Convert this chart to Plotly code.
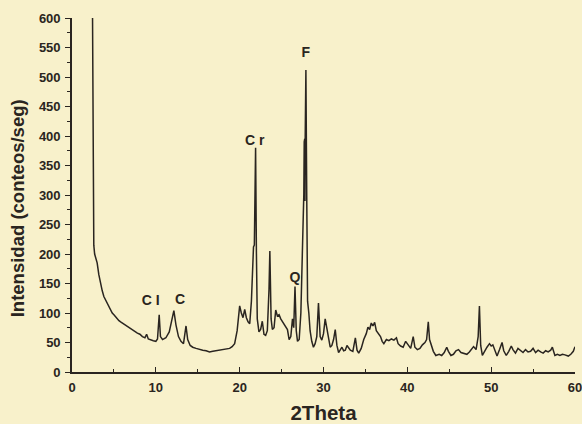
import plotly.graph_objects as go

two_theta = [2.45, 2.5, 2.55, 2.6, 2.7, 2.8, 2.9, 3.0, 3.2, 3.4, 3.6, 3.8, 4.0, 4.2, 4.4, 4.6, 4.8, 5.0,
             5.2, 5.4, 5.6, 5.8, 6.0, 6.3, 6.6, 6.9, 7.2, 7.5, 7.8, 8.1, 8.4, 8.7, 8.9, 9.1, 9.4, 9.7,
             10.0, 10.2, 10.4, 10.55, 10.8, 11.2, 11.6, 11.9, 12.15, 12.4, 12.7, 13.0, 13.3, 13.6,
             13.8, 14.1, 14.4, 14.8, 15.2, 15.6, 16.0, 16.4, 16.8, 17.2, 17.6, 18.0, 18.4, 18.8,
             19.1, 19.4, 19.7, 20.0, 20.2, 20.4, 20.6, 20.8, 21.0, 21.2, 21.4, 21.55, 21.65, 21.75,
             21.9, 22.0, 22.1, 22.3, 22.5, 22.7, 22.9, 23.1, 23.3, 23.5, 23.6, 23.75, 23.9, 24.1,
             24.3, 24.5, 24.7, 24.9, 25.1, 25.3, 25.5, 25.7, 25.9, 26.1, 26.3, 26.45, 26.6, 26.75,
             26.9, 27.1, 27.3, 27.5, 27.65, 27.7, 27.73, 27.76, 27.79, 27.82, 27.9, 28.0, 28.1,
             28.25, 28.4, 28.6, 28.8, 29.0, 29.2, 29.4, 29.6, 29.8, 30.0, 30.2, 30.4, 30.6, 30.8,
             31.0, 31.2, 31.4, 31.6, 31.8, 32.0, 32.2, 32.4, 32.6, 32.8, 33.0, 33.2, 33.5, 33.8,
             34.0, 34.2, 34.5, 34.8, 35.1, 35.3, 35.5, 35.7, 35.9, 36.1, 36.3, 36.5, 36.8, 37.0,
             37.2, 37.5, 37.8, 38.1, 38.4, 38.7, 38.9, 39.2, 39.5, 39.8, 40.1, 40.4, 40.7, 40.9,
             41.2, 41.5, 41.8, 42.1, 42.3, 42.5, 42.65, 42.9, 43.1, 43.4, 43.8, 44.1, 44.4, 44.7,
             44.9, 45.2, 45.5, 45.8, 46.1, 46.4, 46.8, 47.1, 47.4, 47.7, 47.9, 48.2, 48.45, 48.6,
             48.75, 48.95, 49.2, 49.5, 49.8, 50.0, 50.2, 50.5, 50.7, 51.0, 51.3, 51.5, 51.8, 52.1,
             52.4, 52.6, 52.9, 53.2, 53.5, 53.8, 54.1, 54.4, 54.7, 55.0, 55.3, 55.6, 55.9, 56.2,
             56.5, 56.8, 57.1, 57.3, 57.6, 57.9, 58.2, 58.5, 58.8, 59.2, 59.5, 59.8, 60.0]

intensity = [600, 420, 300, 215, 200, 195, 190, 185, 165, 150, 138, 128, 122, 116, 110, 105, 100, 97,
             93, 90, 87, 85, 83, 80, 78, 74, 72, 68, 66, 64, 60, 58, 64, 56, 54, 53,
             52, 56, 97, 60, 55, 58, 68, 85, 104, 80, 60, 52, 48, 78,
             55, 45, 42, 40, 38, 37, 36, 34, 35, 36, 37, 38, 39, 40,
             43, 48, 70, 112, 100, 92, 106, 92, 85, 82, 120, 180, 212, 215,
             380, 200, 90, 68, 72, 86, 64, 62, 70, 140, 205, 90, 72, 75,
             105, 95, 97, 90, 86, 80, 78, 72, 55, 60, 90, 75, 145, 70,
             52, 55, 100, 200, 300, 390, 290, 395, 290, 400, 512, 300, 120,
             100, 70, 52, 42, 48, 60, 117, 60, 54, 65, 90, 75, 55, 42,
             45, 55, 72, 45, 33, 38, 42, 36, 37, 45, 40, 37, 35, 58,
             37, 32, 40, 55, 65, 76, 72, 83, 78, 84, 70, 65, 60, 52,
             48, 55, 53, 56, 54, 58, 48, 44, 42, 52, 45, 40, 60, 42,
             38, 40, 46, 50, 55, 85, 55, 45, 35, 28, 30, 28, 33, 42,
             35, 28, 30, 36, 38, 33, 31, 30, 34, 40, 43, 38, 60, 112,
             45, 28, 35, 42, 48, 44, 46, 32, 27, 38, 50, 36, 28, 35,
             44, 38, 32, 40, 36, 33, 38, 34, 35, 40, 33, 37, 34, 32,
             36, 34, 37, 42, 28, 30, 28, 30, 29, 27, 30, 35, 43]

peak_labels = ["C I", "C", "C r", "Q", "F"]
label_x = [9.4, 12.9, 21.8, 26.6, 27.9]
label_y = [120, 122, 390, 159, 540]

ink = "#2a2520"
bg = "#f8f1cb"
font = "Liberation Sans, Arial, sans-serif"

fig = go.Figure()
fig.add_trace(go.Scatter(x=two_theta, y=intensity, mode="lines",
                         line=dict(color=ink, width=1.5), showlegend=False, hoverinfo="skip"))
fig.add_trace(go.Scatter(x=label_x, y=label_y, mode="text",
                         text=[f"<b>{t}</b>" for t in peak_labels],
                         textfont=dict(family=font, size=14, color=ink),
                         showlegend=False, hoverinfo="skip"))

fig.add_annotation(text="<b>Intensidad (conteos/seg)</b>", textangle=-90,
                   xref="paper", yref="paper", x=-0.109, y=0.463,
                   xanchor="center", yanchor="middle", showarrow=False,
                   font=dict(size=18.5, family=font, color=ink))

fig.update_layout(
    width=582, height=424,
    margin=dict(l=72, r=7, t=18, b=52),
    paper_bgcolor=bg, plot_bgcolor=bg,
    font=dict(family=font, color=ink, size=12),
    xaxis=dict(range=[0, 60], tickmode="linear", tick0=0, dtick=10, automargin=False,
               ticks="inside", ticklen=5, tickwidth=1.3, tickcolor=ink, ticklabelstandoff=3,
               ticklabeloverflow="allow",
               minor=dict(dtick=5, ticks="inside", ticklen=3, tickcolor=ink, tickwidth=1.3),
               showline=True, linecolor=ink, linewidth=1.6, showgrid=False, zeroline=False,
               tickfont=dict(size=13, family=font, color=ink, weight="bold"),
               title=dict(text="<b>2Theta</b>", font=dict(size=20.5, family=font, color=ink), standoff=19)),
    yaxis=dict(range=[0, 600], tickmode="linear", tick0=0, dtick=50, automargin=False,
               ticks="outside", ticklen=5, tickwidth=1.3, tickcolor=ink, ticklabelstandoff=2,
               ticklabeloverflow="allow",
               minor=dict(dtick=25, ticks="outside", ticklen=3, tickcolor=ink, tickwidth=1.3),
               showline=True, linecolor=ink, linewidth=1.6, showgrid=False, zeroline=False,
               tickfont=dict(size=13, family=font, color=ink, weight="bold")),
)

fig.write_html("out.html")
